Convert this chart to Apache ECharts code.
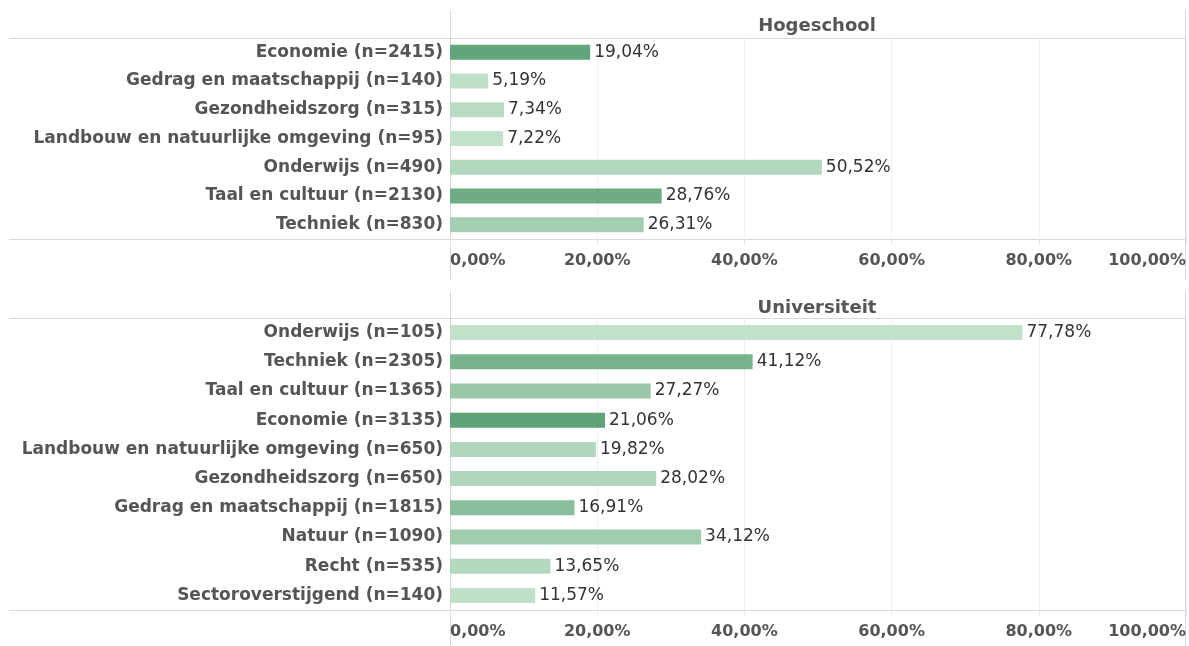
<!DOCTYPE html>
<html>
<head>
    <meta charset="UTF-8">
    <title>Hogeschool / Universiteit</title>
    <script src="https://cdn.jsdelivr.net/npm/echarts@6/dist/echarts.min.js"></script>
    <style>
        html, body { margin: 0; padding: 0; background: #fff; }
        #main { width: 1189px; height: 646px; }
    </style>
</head>
<body>
<div id="main"></div>
<script type="text/javascript">
    // Hogeschool
    var hboNames = ['Economie', 'Gedrag en maatschappij', 'Gezondheidszorg', 'Landbouw en natuurlijke omgeving',
        'Onderwijs', 'Taal en cultuur', 'Techniek'];
    var hboN = [2415, 140, 315, 95, 490, 2130, 830];
    var hboPct = [19.04, 5.19, 7.34, 7.22, 50.52, 28.76, 26.31];

    // Universiteit
    var woNames = ['Onderwijs', 'Techniek', 'Taal en cultuur', 'Economie', 'Landbouw en natuurlijke omgeving',
        'Gezondheidszorg', 'Gedrag en maatschappij', 'Natuur', 'Recht', 'Sectoroverstijgend'];
    var woN = [105, 2305, 1365, 3135, 650, 650, 1815, 1090, 535, 140];
    var woPct = [77.78, 41.12, 27.27, 21.06, 19.82, 28.02, 16.91, 34.12, 13.65, 11.57];

    var axisTicks = [0, 20, 40, 60, 80, 100];

    var font = 'DejaVu Sans';
    var lineColor = '#d9d9d9';

    function labels(names, ns) {
        return names.map(function (s, i) { return s + ' (n=' + ns[i] + ')'; });
    }
    function rows(names, ns, pct) {
        var cats = labels(names, ns);
        return pct.map(function (v, i) { return [v, cats[i], ns[i]]; });
    }
    function pctText(v) {
        return v.toFixed(2).replace('.', ',') + '%';
    }

    function xAxisFor(idx) {
        return {
            gridIndex: idx,
            type: 'value',
            min: axisTicks[0],
            max: axisTicks[axisTicks.length - 1],
            interval: axisTicks[1] - axisTicks[0],
            axisLine: {show: true, lineStyle: {color: lineColor}},
            axisTick: {show: true, length: 6, lineStyle: {color: '#e8e8e8'}},
            splitLine: {show: true, lineStyle: {color: '#efefef'}},
            axisLabel: {
                margin: 14,
                fontFamily: font,
                fontSize: 16,
                fontWeight: 'bold',
                color: '#555',
                alignMinLabel: 'left',
                alignMaxLabel: 'right',
                formatter: pctText
            }
        };
    }
    function yAxisFor(idx, cats) {
        return {
            gridIndex: idx,
            type: 'category',
            inverse: true,
            data: cats,
            axisLine: {show: true, lineStyle: {color: lineColor}},
            axisTick: {show: false},
            axisLabel: {
                margin: 7,
                fontFamily: font,
                fontSize: 17,
                fontWeight: 'bold',
                color: '#555'
            }
        };
    }
    function barSeries(idx, data) {
        return {
            type: 'bar',
            xAxisIndex: idx,
            yAxisIndex: idx,
            barWidth: 15,
            encode: {x: 0, y: 1},
            data: data,
            label: {
                show: true,
                position: 'right',
                distance: 4,
                fontFamily: font,
                fontSize: 17,
                color: '#333',
                formatter: function (p) { return pctText(p.value[0]); }
            }
        };
    }

    function hline(y, x1, x2) {
        return {type: 'line', shape: {x1: x1, y1: y, x2: x2, y2: y}, style: {stroke: lineColor, lineWidth: 1}, silent: true};
    }
    function vline(x, y1, y2) {
        return {type: 'line', shape: {x1: x, y1: y1, x2: x, y2: y2}, style: {stroke: lineColor, lineWidth: 1}, silent: true};
    }

    var myChart = echarts.init(document.getElementById('main'));
    var option = {
        backgroundColor: '#fff',
        animation: false,
        title: [
            {text: 'Hogeschool', left: 812, top: 12, textAlign: 'center',
                textStyle: {fontFamily: font, fontSize: 18, fontWeight: 'bold', color: '#555'}},
            {text: 'Universiteit', left: 812, top: 294, textAlign: 'center',
                textStyle: {fontFamily: font, fontSize: 18, fontWeight: 'bold', color: '#555'}}
        ],
        grid: [
            {left: 450, top: 38, width: 736, height: 201},
            {left: 450, top: 318, width: 736, height: 292}
        ],
        xAxis: [xAxisFor(0), xAxisFor(1)],
        yAxis: [yAxisFor(0, labels(hboNames, hboN)), yAxisFor(1, labels(woNames, woN))],
        visualMap: [
            {show: false, seriesIndex: 0, dimension: 2, min: Math.min.apply(null, hboN), max: Math.max.apply(null, hboN),
                inRange: {color: ['#c1e1ca', '#63a57a']}},
            {show: false, seriesIndex: 1, dimension: 2, min: Math.min.apply(null, woN), max: Math.max.apply(null, woN),
                inRange: {color: ['#c1e1ca', '#60a277']}}
        ],
        series: [
            barSeries(0, rows(hboNames, hboN, hboPct)),
            barSeries(1, rows(woNames, woN, woPct))
        ],
        graphic: [
            hline(38.5, 9, 1186), hline(239.5, 9, 1186),
            hline(318.5, 9, 1186), hline(610.5, 9, 1186),
            vline(450.5, 10, 280), vline(450.5, 291, 646),
            vline(1185.5, 10, 280), vline(1185.5, 291, 646)
        ]
    };
    myChart.setOption(option);
</script>
</body>
</html>
